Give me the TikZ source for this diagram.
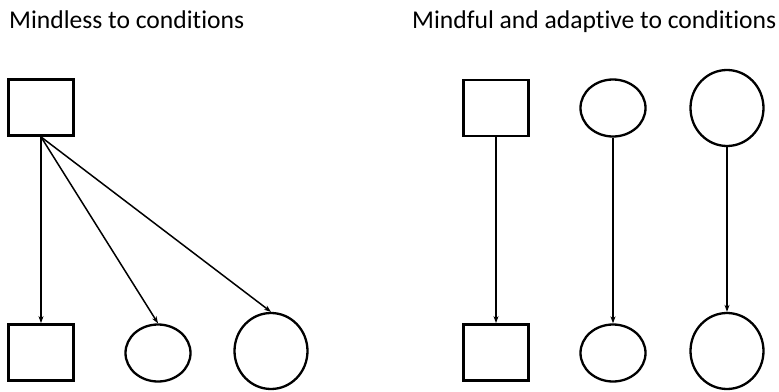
\documentclass[tikz,border=0pt]{standalone}
\usepackage{fontspec}
\setmainfont{Carlito}[Ligatures=NoCommon]
\usetikzlibrary{arrows.meta,shapes.geometric}
\begin{document}
\begin{tikzpicture}[x=1pt,y=-1pt,
  sq/.style={draw,rectangle,line width=2.8pt,minimum width=64.5pt,minimum height=56pt,inner sep=0pt},
  el/.style={draw,ellipse,line width=2.3pt,minimum width=65pt,minimum height=57pt,inner sep=0pt},
  bigel/.style={draw,ellipse,line width=2.3pt,minimum width=73pt,minimum height=76pt,inner sep=0pt},
  arr/.style={line width=1.5pt,-{Stealth[length=7pt,width=5pt]}},
  title/.style={anchor=base west,inner sep=0pt,font=\fontsize{25.6}{30}\selectfont}]
\useasboundingbox (0,0) rectangle (779,391);
\node[title] (t1) at (9,28) {Mindless to conditions};
\node[title] (t2) at (412,28) {Mindful and adaptive to conditions};
% left
\node[sq] (lts) at (41,107.5) {};
\node[sq] (lbs) at (41,352.5) {};
\node[el] (lbe) at (158,353) {};
\node[bigel] (lbb) at (271,351) {};
\draw[arr] (lts.south) -- (lbs.north);
\draw[arr] (lts.south) -- (lbe.north);
\draw[arr] (lts.south) -- (lbb.north);
% right
\node[sq] (rts) at (496,108) {};
\node[el] (rte) at (613,108) {};
\node[bigel] (rtb) at (727,108) {};
\node[sq] (rbs) at (496,352.5) {};
\node[el] (rbe) at (613,353) {};
\node[bigel] (rbb) at (727,351) {};
\draw[arr] (rts.south) -- (rbs.north);
\draw[arr] (rte.south) -- (rbe.north);
\draw[arr] (rtb.south) -- (rbb.north);
\end{tikzpicture}
\end{document}
